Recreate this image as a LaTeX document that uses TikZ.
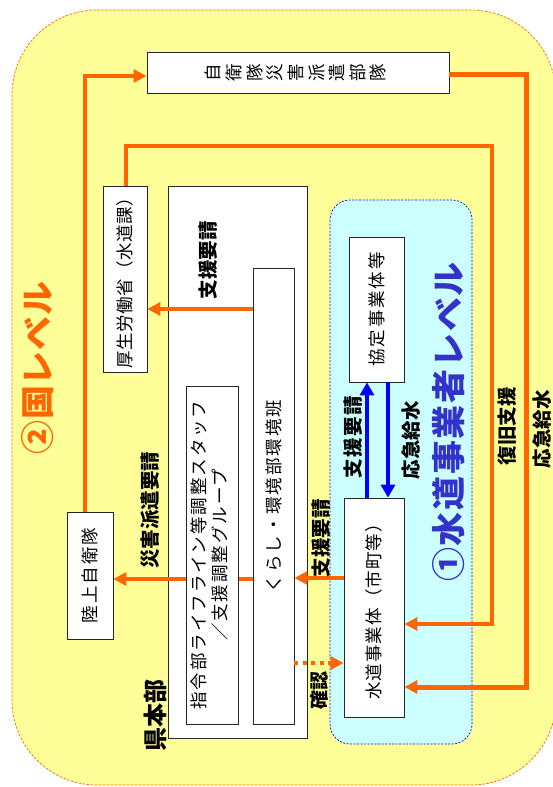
\documentclass[tikz,border=0pt]{standalone}
\usepackage{fontspec}
\setmainfont{Noto Sans CJK JP}
\usetikzlibrary{arrows.meta}
\definecolor{orng}{HTML}{FF6600}
\definecolor{ylw}{HTML}{FFFF99}
\definecolor{cyn}{HTML}{CCFFFF}
\definecolor{bl}{HTML}{0000FF}
\definecolor{tblue}{HTML}{3333CC}
\newcommand{\rt}[1]{\rotatebox{90}{#1}}
\newcommand{\bxfont}{\fontsize{17.5}{21}\selectfont\addfontfeature{LetterSpace=11}}
\newcommand{\lblfont}{\bfseries\fontsize{19.5}{19.5}\selectfont}
\tikzset{
  box/.style={draw=black!85, fill=white, line width=0.8pt, inner sep=0pt, font=\bxfont},
  lbl/.style={inner sep=0pt, font=\lblfont},
  oarr/.style={draw=orng, line width=4pt, -{Triangle[length=13pt,width=13pt]}},
  odot/.style={draw=orng, line width=4pt, dash pattern=on 4pt off 4.5pt, -{Triangle[length=13pt,width=13pt]}},
  barr/.style={draw=bl, line width=4.5pt, -{Triangle[length=13pt,width=14pt]}},
}
\begin{document}
\begin{tikzpicture}[x=1pt,y=-1pt]
\useasboundingbox (0,0) rectangle (552,787);
% level regions
\path[draw=orng, fill=ylw, line width=0.7pt, dash pattern=on 2.5pt off 1.5pt, rounded corners=85pt] (12,10) rectangle (556,785);
\path[draw=bl, fill=cyn, line width=0.7pt, dash pattern=on 2pt off 1.5pt, rounded corners=20pt] (330,200) rectangle (472,744);
% nodes
\node[box, minimum width=302pt, minimum height=41pt] (jsdf) at (298,72.5)
  {\rt{\fontsize{17.5}{19.7}\selectfont\begin{tabular}{@{}c@{}}自\\衛\\隊\\災\\害\\派\\遣\\部\\隊\end{tabular}}};
\node[box, font=\fontsize{17.5}{21}\selectfont\addfontfeature{LetterSpace=3}, minimum width=44pt, minimum height=186pt] (mhlw) at (125,279) {\rt{厚生労働省（水道課）}};
\node[box, minimum width=46pt, minimum height=127pt] (gsdf) at (90,575.5) {\rt{陸上自衛隊}};
\node[box, minimum width=139pt, minimum height=552pt] (hq) at (237.5,462) {};
\node[box, minimum width=41pt, minimum height=456pt] (env) at (273.5,496) {\rt{くらし・環境部環境班}};
\node[box, minimum width=55pt, minimum height=145pt] (kyotei) at (376.5,309.5) {\rt{協定事業体等}};
\node[box, font=\fontsize{17.5}{21}\selectfont\addfontfeature{LetterSpace=6}, minimum width=60pt, minimum height=219pt] (water) at (374,607.5) {\rt{水道事業体（市町等）}};
% arrow behind command box
\draw[oarr] ([yshift=-83pt]env.west) coordinate (s5) -- (s5 -| gsdf.east);
\node[box, minimum width=52pt, minimum height=338pt] (cmd) at (212,555)
  {\rt{\begin{tabular}{@{}c@{}}指令部ライフライン等調整スタッフ\\／支援調整グループ\end{tabular}}};
% long connectors
\coordinate (c1) at (526,74);
\coordinate (c2) at (526,687);
\draw[oarr, line width=5pt] (jsdf.east |- c1) -- (c1) -- (c2) -- (water.east |- c2);
\coordinate (c3) at (126,146);
\coordinate (c4) at (492,146);
\coordinate (c5) at (492,624);
\draw[oarr] (mhlw.north -| c3) -- (c3) -- (c4) -- (c5) -- (water.east |- c5);
\coordinate (c6) at (85,76);
\draw[oarr] (gsdf.north -| c6) -- (c6) -- (c6 -| jsdf.west);
% short connectors
\draw[oarr] ([yshift=187pt]env.west) coordinate (s4) -- (s4 -| mhlw.east);
\draw[oarr] ([yshift=29.5pt]water.west) coordinate (s6) -- (s6 -| env.east);
\draw[odot] ([yshift=-167pt]env.east) coordinate (s7) -- (s7 -| water.west);
\draw[barr] ([xshift=-7pt]water.north) coordinate (s8) -- (s8 |- kyotei.south);
\draw[barr] ([xshift=11.5pt]kyotei.south) coordinate (s9) -- (s9 |- water.north);
% labels
\node[lbl] (t1) at (208,260) {\rt{支援要請}};
\node[lbl] (t2) at (150,510) {\rt{災害派遣要請}};
\node[lbl] (t3) at (321,538) {\rt{支援要請}};
\node[lbl, font=\bfseries\fontsize{19}{19}\selectfont] (t4) at (319,690) {\rt{確認}};
\node[lbl, font=\lblfont\addfontfeature{LetterSpace=8}] (t5) at (353,437) {\rt{支援要請}};
\node[lbl] (t6) at (411,440) {\rt{応急給水}};
\node[lbl] (t7) at (507,426) {\rt{復旧支援}};
\node[lbl] (t8) at (542,429) {\rt{応急給水}};
\node[inner sep=0pt, font=\bfseries\fontsize{24}{24}\selectfont] (t9) at (155,715) {\rt{県本部}};
\node[inner sep=0pt, text=orng, font=\bfseries\fontsize{34}{34}\selectfont\addfontfeature{LetterSpace=2}] (t10) at (38,368) {\rt{②国レベル}};
\node[inner sep=0pt, text=tblue, font=\bfseries\fontsize{34}{34}\selectfont\addfontfeature{LetterSpace=5}] (t11) at (449,422) {\rt{①水道事業者レベル}};
\end{tikzpicture}
\end{document}
